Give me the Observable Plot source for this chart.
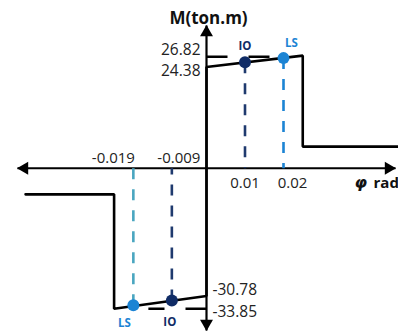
<!DOCTYPE html>
<html><head><meta charset="utf-8">
<script src="https://cdn.jsdelivr.net/npm/d3@7"></script>
<script src="https://cdn.jsdelivr.net/npm/@observablehq/plot@0.6"></script>
<style>body{margin:0;background:#fff;overflow:hidden}</style>
</head><body><div id="chart"></div>
<script>
// moment-rotation backbone curve
const curvePhi = [-0.047, -0.024, -0.024, 0, 0, 0.025, 0.025, 0.05];
const curveM   = [-6.3, -6.3, -33.85, -30.78, 24.38, 27.1, 5.2, 5.2];
// performance points
const pointLabel = ["IO", "LS", "IO", "LS"];
const pointPhi   = [0.01, 0.02, -0.009, -0.019];
const pointM     = [25.5, 26.5, -31.85, -33.0];
// annotated values
const xTickLabels = ["-0.019", "-0.009", "0.01", "0.02"];
const yTickValues = [26.82, 24.38, -30.78, -33.85];
const yTickLabels = ["26.82", "24.38", "-30.78", "-33.85"];

const FONT = "Open Sans";
const curve = curvePhi.map((p, i) => ({phi: p, M: curveM[i]}));
const pts = pointPhi.map((p, i) => ({phi: p, M: pointM[i], label: pointLabel[i]}));
const navy = "#102c66", navyDash = "#1f3a6e", lsBlue = "#1c84d4", teal = "#4aa6c0";

const xDom = [-206/3850, 192/3850];
const k = 4.154, y0 = 167.7;
const yDom = [(y0 - 331)/k, y0/k];
const yTop = (y0 - 25)/k, yBot = (y0 - 330)/k;
const xL = -0.0491, xR = 0.0491;

function lbl(i, opts) {
  return Plot.text([{phi: Number(xTickLabels[i]), t: xTickLabels[i]}],
    {x: "phi", y: () => 0, text: "t", fontSize: 15, fill: "#222", fontFamily: FONT, ...opts});
}
function ylbl(i, opts) {
  return Plot.text([{v: yTickValues[i], t: yTickLabels[i]}],
    {x: () => 0, y: "v", text: "t", fontSize: 15.5, fill: "#222", fontFamily: FONT, ...opts});
}
function plabel(i, opts) {
  return Plot.text([pts[i]], {x: "phi", y: "M", text: "label", fontSize: 11.5, fontWeight: "bold", fontFamily: FONT, ...opts});
}

const chart = Plot.plot({
  width: 398, height: 331,
  marginTop: 0, marginBottom: 0, marginLeft: 0, marginRight: 0,
  x: {domain: xDom, axis: null},
  y: {domain: yDom, axis: null},
  style: {background: "#fff", overflow: "hidden"},
  marks: [
    // axes
    Plot.link([{a: xL, b: xR}], {x1: "a", x2: "b", y1: () => 0, y2: () => 0, stroke: "#000", strokeWidth: 2}),
    Plot.link([{a: yTop, b: yBot}], {x1: () => 0, x2: () => 0, y1: "a", y2: "b", stroke: "#000", strokeWidth: 2.2}),
    Plot.dot([{p: xR, m: 0}], {x: "p", y: "m", symbol: "triangle", r: 4.8, fill: "#000", stroke: null, rotate: 90, dx: -7}),
    Plot.dot([{p: xL, m: 0}], {x: "p", y: "m", symbol: "triangle", r: 4.8, fill: "#000", stroke: null, rotate: -90, dx: 7}),
    Plot.dot([{p: 0, m: yTop}], {x: "p", y: "m", symbol: "triangle", r: 4.8, fill: "#000", stroke: null, rotate: 0, dy: 7}),
    Plot.dot([{p: 0, m: yBot}], {x: "p", y: "m", symbol: "triangle", r: 4.8, fill: "#000", stroke: null, rotate: 180, dy: -7}),
    // horizontal dashed guides
    Plot.link([{a: 0, b: pointPhi[1], m: yTickValues[0]}], {x1: "a", x2: "b", y1: "m", y2: "m", stroke: "#000", strokeWidth: 2.4, strokeDasharray: "21,21"}),
    Plot.link([{a: 0, b: -0.0151, m: yTickValues[3]}], {x1: "a", x2: "b", y1: "m", y2: "m", stroke: "#000", strokeWidth: 2.4, strokeDasharray: "21,21"}),
    // vertical dashed guides
    Plot.link(pts, {x1: "phi", x2: "phi", y1: "M", y2: () => 0,
      stroke: (d) => d.label === "IO" ? navyDash : (d.phi > 0 ? lsBlue : teal),
      strokeWidth: 2.6, strokeDasharray: "11,10"}),
    // backbone
    Plot.line(curve, {x: "phi", y: "M", stroke: "#000", strokeWidth: 2.6, strokeLinejoin: "miter"}),
    // points
    Plot.dot(pts, {x: "phi", y: "M", r: 6, fill: (d) => d.label === "IO" ? navy : lsBlue, stroke: null}),
    plabel(0, {fill: navy, dy: -16}),
    plabel(1, {fill: lsBlue, dx: 8, dy: -15}),
    plabel(2, {fill: navy, dx: -2, dy: 22}),
    plabel(3, {fill: lsBlue, dx: -9, dy: 18}),
    // x annotations
    lbl(0, {textAnchor: "middle", dx: -20, dy: -10}),
    lbl(1, {textAnchor: "middle", dx: 7, dy: -10}),
    lbl(2, {textAnchor: "middle", dx: 0, dy: 15}),
    lbl(3, {textAnchor: "middle", dx: 9, dy: 15}),
    // y annotations
    ylbl(0, {textAnchor: "end", dx: -6, dy: -7}),
    ylbl(1, {textAnchor: "end", dx: -6, dy: 4}),
    ylbl(2, {textAnchor: "start", dx: 6, dy: -6}),
    ylbl(3, {textAnchor: "start", dx: 6, dy: 3}),
    // titles
    Plot.text([{t: "M(ton.m)"}], {x: () => 0, y: () => yTop, text: "t", dx: 2, dy: -7, fontSize: 17, fontWeight: "bold", fill: "#111", fontFamily: FONT}),
    Plot.text([{t: "φ"}], {x: () => xR, y: () => 0, text: "t", dx: -41, dy: 15, textAnchor: "start", fontSize: 16, fontWeight: "bold", fontStyle: "italic", fill: "#111", fontFamily: "DejaVu Sans"}),
    Plot.text([{t: "rad"}], {x: () => xR, y: () => 0, text: "t", dx: -22, dy: 15, textAnchor: "start", fontSize: 15, fontWeight: "bold", fill: "#111", fontFamily: FONT})
  ]
});
document.getElementById("chart").appendChild(chart);
</script>
</body></html>
